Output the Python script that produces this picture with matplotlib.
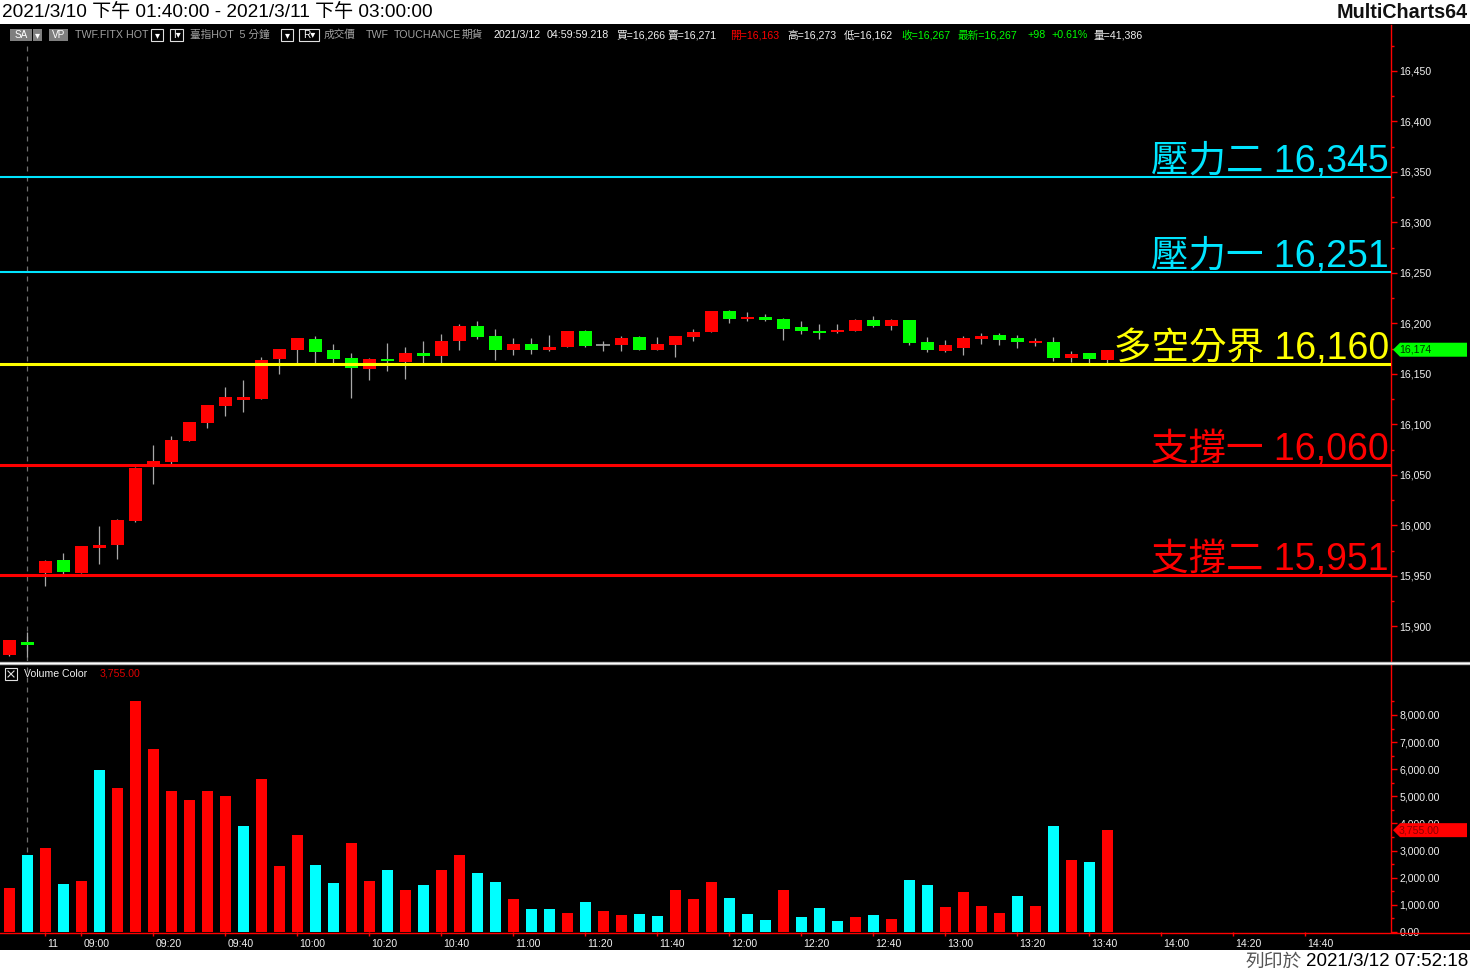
import matplotlib
matplotlib.use('Agg')
import matplotlib.pyplot as plt
from matplotlib.patches import Rectangle, Polygon
from matplotlib.lines import Line2D
import matplotlib.transforms as mtransforms

plt.rcParams['font.family'] = ['Liberation Sans', 'Noto Sans CJK TC', 'DejaVu Sans']

# ---------------- data ----------------
opens = [15872, 15885, 15953, 15966, 15953, 15978, 15981, 16004, 16061, 16063,
         16084, 16101, 16118, 16124, 16125, 16165, 16174, 16185, 16174, 16166,
         16155, 16165, 16162, 16171, 16168, 16183, 16197, 16188, 16174, 16180,
         16174, 16177, 16193, 16179, 16179, 16187, 16174, 16179, 16187, 16192,
         16212, 16204, 16206, 16204, 16196, 16193, 16192, 16193, 16203, 16197,
         16203, 16182, 16173, 16176, 16185, 16189, 16186, 16181, 16182, 16166,
         16171, 16164]
highs = [15887, 15895, 15966, 15973, 15980, 15999, 16006, 16058, 16080, 16089,
         16102, 16119, 16137, 16144, 16167, 16175, 16186, 16188, 16180, 16171,
         16166, 16181, 16177, 16183, 16190, 16199, 16202, 16195, 16186, 16186,
         16189, 16193, 16194, 16183, 16188, 16188, 16187, 16188, 16195, 16212,
         16213, 16211, 16209, 16205, 16202, 16199, 16199, 16204, 16207, 16204,
         16203, 16187, 16184, 16188, 16191, 16191, 16189, 16186, 16187, 16173,
         16171, 16174]
lows = [15871, 15870, 15940, 15952, 15953, 15962, 15967, 16003, 16041, 16061,
        16084, 16096, 16108, 16112, 16125, 16150, 16161, 16161, 16161, 16126,
        16144, 16153, 16145, 16161, 16161, 16174, 16185, 16164, 16169, 16170,
        16173, 16177, 16177, 16173, 16173, 16174, 16174, 16167, 16183, 16192,
        16200, 16202, 16202, 16184, 16190, 16185, 16191, 16193, 16196, 16194,
        16179, 16172, 16172, 16169, 16180, 16179, 16176, 16178, 16163, 16162,
        16160, 16160]
closes = [15887, 15882, 15965, 15954, 15980, 15981, 16005, 16057, 16064, 16085,
          16102, 16119, 16127, 16127, 16164, 16175, 16186, 16172, 16165, 16156,
          16165, 16163, 16171, 16168, 16183, 16197, 16187, 16174, 16180, 16174,
          16177, 16193, 16178, 16179, 16186, 16174, 16180, 16188, 16192, 16212,
          16204, 16206, 16203, 16195, 16193, 16191, 16194, 16203, 16197, 16203,
          16181, 16174, 16179, 16186, 16188, 16184, 16182, 16183, 16166, 16170,
          16165, 16174]
volumes = [1620, 2835, 3092, 1767, 1877, 5963, 5300, 8503, 6736, 5190,
           4859, 5190, 5006, 3902, 5632, 2429, 3571, 2466, 1804, 3276,
           1877, 2282, 1546, 1730, 2282, 2834, 2172, 1840, 1215, 847,
           847, 699, 1104, 773, 626, 663, 589, 1546, 1215, 1840,
           1251, 663, 442, 1546, 552, 883, 405, 552, 626, 479,
           1914, 1730, 920, 1472, 957, 699, 1325, 957, 3902, 2650,
           2577, 3755]
vol_up = [1, 0, 1, 0, 1, 0, 1, 1, 1, 1,
          1, 1, 1, 0, 1, 1, 1, 0, 0, 1,
          1, 0, 1, 0, 1, 1, 0, 0, 1, 0,
          0, 1, 0, 1, 1, 0, 0, 1, 1, 1,
          0, 0, 0, 1, 0, 0, 0, 1, 0, 1,
          0, 0, 1, 1, 1, 1, 0, 1, 0, 1,
          0, 1]
tick_bars = [2, 4, 8, 12, 16, 20, 24, 28, 32, 36, 40, 44, 48, 52, 56, 60, 64, 68, 72]
tick_labels = ['11', '09:00', '09:20', '09:40', '10:00', '10:20', '10:40', '11:00',
               '11:20', '11:40', '12:00', '12:20', '12:40', '13:00', '13:20',
               '13:40', '14:00', '14:20', '14:40']
level_values = [16345, 16251, 16160, 16060, 15951]
level_names = ['壓力二', '壓力一', '多空分界', '支撐一', '支撐二']
level_colors = ['#00E5FF', '#00E5FF', '#FFFF00', '#FF0000', '#FF0000']
level_widths = [1.5, 1.5, 2.2, 2.2, 2.2]
price_ticks = [15900, 15950, 16000, 16050, 16100, 16150, 16200, 16250, 16300, 16350, 16400, 16450]
volume_ticks = [0, 1000, 2000, 3000, 4000, 5000, 6000, 7000, 8000]
last_price = 16174
last_volume = 3755
session_break_bar = 1

# ---------------- layout helpers ----------------
W, H = 1470, 973
fig = plt.figure(figsize=(W / 100, H / 100), dpi=100, facecolor='white')


def fx(x):
    return x / W


def fy(y):
    return 1 - y / H


fig.patches.append(Rectangle((0, fy(950)), 1, fy(24) - fy(950), transform=fig.transFigure,
                             facecolor='black', edgecolor='none', zorder=-5))

AXIS_RIGHT = 1391
X0 = -0.517
X1 = (AXIS_RIGHT - 9.3) / 18.0

ax = fig.add_axes([0, fy(661), fx(AXIS_RIGHT), fy(25) - fy(661)])
axv = fig.add_axes([0, fy(932), fx(AXIS_RIGHT), fy(664) - fy(932)])

for a in (ax, axv):
    a.set_facecolor('none')
    a.set_xlim(X0, X1)
    for s in ('top', 'left', 'bottom'):
        a.spines[s].set_visible(False)
    a.spines['right'].set_color('#FF0000')
    a.spines['right'].set_linewidth(1.0)
    a.yaxis.tick_right()

ax.set_ylim(15865.8, 16495.5)
axv.set_ylim(0, 9880)

# ---------------- candles ----------------
wick_color = '#A8A8A8'
for i, (o, h, l, c) in enumerate(zip(opens, highs, lows, closes)):
    ax.vlines(i, l, h, color=wick_color, lw=0.9, zorder=2)
    if c > o:
        col = '#FF0000'
    elif c < o:
        col = '#00FF00'
    else:
        col = None
    if col is None:
        ax.hlines(o, i - 0.38, i + 0.38, color=wick_color, lw=1.2, zorder=3)
    else:
        ax.bar(i, max(abs(c - o), 2.0), bottom=min(o, c), width=0.72, color=col,
               edgecolor='none', zorder=3)

# ---------------- levels ----------------
for v, name, col, lw in zip(level_values, level_names, level_colors, level_widths):
    ax.axhline(v, color=col, lw=lw, zorder=4)
    tr = mtransforms.offset_copy(ax.get_yaxis_transform(), fig=fig, y=5, units='dots')
    ax.text(0.9985, v, f'{name} {v:,}', transform=tr, ha='right', va='baseline',
            color=col, fontsize=27, zorder=5)

# session break
ax.plot([session_break_bar, session_break_bar], [15865.8, 16475], color='#6E6E6E', lw=0.9,
        ls=(0, (4, 4)), zorder=1)
axv.axvline(session_break_bar, color='#6E6E6E', lw=0.9, ls=(0, (4, 4)), zorder=1)

# ---------------- volume ----------------
vcols = ['#FF0000' if u else '#00FFFF' for u in vol_up]
axv.bar(range(len(volumes)), volumes, width=0.61, color=vcols, edgecolor='none', zorder=3)

# ---------------- axes ticks ----------------
ax.set_xticks([])
ax.set_yticks(price_ticks)
ax.set_yticklabels([f'{t:,}' for t in price_ticks])
ax.set_yticks([t + 25 for t in price_ticks], minor=True)
ax.tick_params(axis='y', which='major', colors='#FF0000', labelcolor='#F0F0F0',
               length=4, width=1, labelsize=7.6, pad=2)
ax.tick_params(axis='y', which='minor', colors='#FF0000', length=2, width=1)

axv.set_yticks(volume_ticks)
axv.set_yticklabels([f'{t:,.2f}' for t in volume_ticks])
axv.set_yticks([t + 500 for t in volume_ticks], minor=True)
axv.tick_params(axis='y', which='major', colors='#FF0000', labelcolor='#F0F0F0',
                length=4, width=1, labelsize=7.6, pad=2)
axv.tick_params(axis='y', which='minor', colors='#FF0000', length=2, width=1)

axv.set_xticks(tick_bars)
axv.set_xticklabels(tick_labels)
axv.tick_params(axis='x', colors='#FF0000', labelcolor='#F0F0F0', length=3, width=1,
                labelsize=7.6, pad=2)
shift = mtransforms.ScaledTranslation(2 / 100, 0, fig.dpi_scale_trans)
for lab in axv.get_xticklabels():
    lab.set_horizontalalignment('left')
    lab.set_transform(lab.get_transform() + shift)

# bottom red line across the whole width and separator
fig.lines.append(Line2D([0, 1], [fy(932.5), fy(932.5)], transform=fig.transFigure,
                        color='#FF0000', lw=1.0))
fig.lines.append(Line2D([0, 1], [fy(662.5), fy(662.5)], transform=fig.transFigure,
                        color='#B8B8B8', lw=2.4))
fig.lines.append(Line2D([0, 1], [fy(662.5), fy(662.5)], transform=fig.transFigure,
                        color='#FFFFFF', lw=0.8))


# ---------------- last value markers ----------------
def marker(a, yval, text, fc, tc):
    pts = [(2, 0), (9, 7), (76, 7), (76, -7), (9, -7)]
    pts = [(px / 100, py / 100) for px, py in pts]
    tr = fig.dpi_scale_trans + mtransforms.ScaledTranslation(1, yval, a.get_yaxis_transform())
    a.add_patch(Polygon(pts, closed=True, transform=tr, facecolor=fc, edgecolor='none',
                        clip_on=False, zorder=6))
    ttr = mtransforms.offset_copy(a.get_yaxis_transform(), fig=fig, x=8, y=0, units='dots')
    a.text(1, yval, text, transform=ttr, ha='left', va='center', color=tc, fontsize=7.6,
           clip_on=False, zorder=7)


marker(ax, last_price, f'{last_price:,}', '#00FF00', '#003300')
marker(axv, last_volume, f'{last_volume:,.2f}', '#FF0000', '#8B0000')

# ---------------- header / footer ----------------
fig.text(fx(2), fy(12), '2021/3/10 下午 01:40:00 - 2021/3/11 下午 03:00:00', fontsize=13.7,
         ha='left', va='center', color='black')
fig.text(fx(1468), fy(12), 'MultiCharts64', fontsize=14.2, weight='bold', ha='right',
         va='center', color='#111111')
fig.text(fx(1468), fy(962), '2021/3/12 07:52:18', fontsize=13.5, ha='right', va='center',
         color='black')
fig.text(fx(1302), fy(962), '列印於', fontsize=13.5, ha='right', va='center', color='#555555')


# info line
def box(x, y, w, h, fc, ec):
    fig.patches.append(Rectangle((fx(x), fy(y + h)), w / W, h / H, transform=fig.transFigure,
                                 facecolor=fc, edgecolor=ec, lw=0.8, zorder=3))


IY = 35
box(10, 29, 22, 12, '#7F7F7F', 'none')
box(33, 29, 9, 12, '#7F7F7F', 'none')
box(49, 29, 19, 12, '#7F7F7F', 'none')
box(151, 29, 12, 12, 'black', '#E0E0E0')
box(170, 29, 13, 12, 'black', '#E0E0E0')
box(281, 29, 12, 12, 'black', '#E0E0E0')
box(299, 29, 20, 12, 'black', '#E0E0E0')
icon_items = [(21, 'SA', 'white'), (37.5, '▾', 'white'), (58.5, 'VP', 'white'),
              (157, '▾', 'white'), (176.5, 'I▾', 'white'), (287, '▾', 'white'),
              (309, 'R▾', 'white')]
for x, t, c in icon_items:
    fig.text(fx(x), fy(IY), t, fontsize=7.2, ha='center', va='center', color=c, zorder=4)

info_items = [(75, 'TWF.FITX HOT', '#A0A0A0'), (190, '臺指HOT  5 分鐘', '#A0A0A0'),
              (324, '成交價', '#A0A0A0'), (366, 'TWF', '#A0A0A0'),
              (394, 'TOUCHANCE', '#A0A0A0'), (462, '期貨', '#A0A0A0'),
              (493, '2021/3/12', '#F0F0F0'), (547, '04:59:59.218', '#F0F0F0'),
              (616, '買=16,266', '#F0F0F0'), (668, '賣=16,271', '#F0F0F0'),
              (730, '開=16,163', '#FF0000'), (787, '高=16,273', '#F0F0F0'),
              (844, '低=16,162', '#F0F0F0'), (901, '收=16,267', '#00FF00'),
              (958, '最新=16,267', '#00FF00'), (1027, '+98', '#00FF00'),
              (1051, '+0.61%', '#00FF00'), (1094, '量=41,386', '#F0F0F0')]
for x, t, c in info_items:
    fig.text(fx(x), fy(IY), t, fontsize=7.7, ha='left', va='center', color=c)

# volume panel caption
box(5, 668, 12, 12, 'black', '#E0E0E0')
fig.lines.append(Line2D([fx(8), fx(14)], [fy(671), fy(677)], transform=fig.transFigure,
                        color='#E0E0E0', lw=0.8, zorder=6))
fig.lines.append(Line2D([fx(8), fx(14)], [fy(677), fy(671)], transform=fig.transFigure,
                        color='#E0E0E0', lw=0.8, zorder=6))
fig.text(fx(24), fy(674), 'Volume Color', fontsize=7.6, ha='left', va='center', color='#F0F0F0')
fig.text(fx(100), fy(674), f'{last_volume:,.2f}', fontsize=7.6, ha='left', va='center',
         color='#E00000')

fig.savefig('out.png', dpi=100, facecolor=fig.get_facecolor())
